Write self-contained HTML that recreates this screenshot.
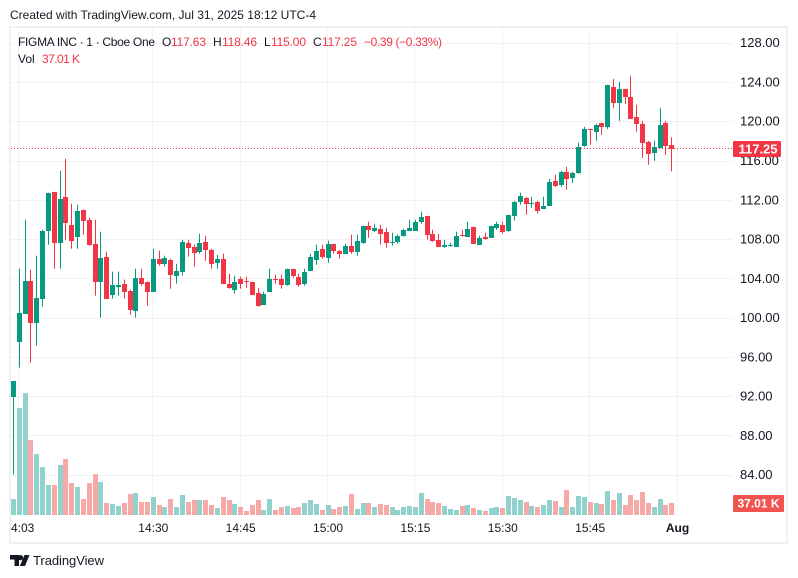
<!DOCTYPE html>
<html>
<head>
<meta charset="utf-8">
<title>FIGMA INC chart</title>
<style>
html,body{margin:0;padding:0;background:#fff;width:798px;height:578px;overflow:hidden}
svg{display:block;font-family:"Liberation Sans","DejaVu Sans",sans-serif}
</style>
</head>
<body>
<svg id="chart" xmlns="http://www.w3.org/2000/svg" width="798" height="578" viewBox="0 0 798 578">
  <rect x="0" y="0" width="798" height="578" fill="#ffffff"/>
  <text x="10" y="19" font-size="12" fill="#131722" textLength="306" lengthAdjust="spacing">Created with TradingView.com, Jul 31, 2025 18:12 UTC-4</text>
  <rect x="10" y="27" width="777" height="516" fill="none" stroke="#f1f1f3" stroke-width="2"/>
  <g id="grid"></g>
  <g id="volumes"></g>
  <g id="candles"></g>
  <line id="lastLine" x1="11" x2="733" stroke="#f23645" stroke-width="1" stroke-dasharray="1 2"/>
  <g id="yAxis"></g>
  <g id="xAxis"></g>
  <g id="badges"></g>
  <g font-size="12">
    <text x="18" y="46" fill="#131722" textLength="137" lengthAdjust="spacing">FIGMA INC · 1 · Cboe One</text>
    <text x="162" y="46" fill="#131722">O</text>
    <text x="171" y="46" fill="#f23645" textLength="35">117.63</text>
    <text x="213" y="46" fill="#131722">H</text>
    <text x="222" y="46" fill="#f23645" textLength="35">118.46</text>
    <text x="264" y="46" fill="#131722">L</text>
    <text x="271" y="46" fill="#f23645" textLength="35">115.00</text>
    <text x="313" y="46" fill="#131722">C</text>
    <text x="322" y="46" fill="#f23645" textLength="35">117.25</text>
    <text x="364" y="46" fill="#f23645" textLength="78" lengthAdjust="spacing">−0.39 (−0.33%)</text>
    <text x="18" y="63" fill="#131722">Vol</text>
    <text x="42" y="63" fill="#f23645" textLength="38" lengthAdjust="spacing">37.01 K</text>
  </g>
  <g>
    <path fill="#131722" d="M10 555h9v11h-4.500v-6.500H10z M20.500 555a2.600 2.600 0 1 1 0 5.200a2.600 2.600 0 0 1 0-5.200z M24.500 555h5l-4.500 11h-5.200z"/>
    <text x="33" y="565" font-size="13" fill="#131722" textLength="71" lengthAdjust="spacing">TradingView</text>
  </g>
</svg>
<script>
var opens = [92.00,97.66,100.51,103.86,99.59,102.03,108.95,112.92,107.73,112.41,109.56,108.34,111.09,110.07,107.63,103.76,106.30,102.44,103.25,103.56,102.85,100.81,104.17,103.76,102.74,106.10,105.59,106.00,104.37,104.78,107.73,107.32,106.81,107.83,107.01,105.69,106.10,103.55,102.94,104.06,103.83,103.76,102.64,101.42,102.74,104.06,104.06,103.45,105.08,104.27,103.55,104.88,106.00,107.12,106.20,107.62,106.91,106.61,107.42,106.81,107.73,109.46,108.95,109.15,108.84,107.73,107.83,108.44,108.95,108.95,109.87,110.48,108.64,108.03,107.32,107.42,107.32,108.54,108.34,109.36,107.53,108.34,108.24,109.25,109.56,108.95,110.48,111.90,112.31,111.70,111.90,111.19,111.49,114.04,113.63,114.95,114.34,114.85,117.60,119.26,119.02,119.94,119.53,123.60,121.97,123.40,122.58,120.55,119.84,118.00,116.89,117.40,119.94,117.63];
var highs = [93.62,105.08,110.07,104.98,106.41,109.05,112.82,112.92,115.05,116.27,111.70,111.60,111.09,110.27,110.07,108.85,106.81,104.78,104.78,103.97,102.95,105.08,105.08,103.76,107.12,106.92,106.41,106.10,105.59,108.03,108.03,107.53,108.64,108.44,107.12,106.50,106.61,104.57,104.37,104.27,104.27,103.76,103.15,102.74,105.08,104.47,104.47,105.08,105.08,104.57,105.08,106.61,107.52,107.52,107.93,107.62,107.01,107.62,108.54,108.54,109.46,109.86,109.66,109.56,109.25,108.75,108.54,109.15,110.07,110.07,110.88,110.48,109.05,108.64,108.03,107.73,108.85,109.05,109.87,109.36,108.44,108.75,109.46,109.87,109.87,110.58,112.00,112.82,112.41,112.41,112.00,112.41,114.24,114.65,115.05,115.46,114.95,117.90,119.53,119.33,119.84,119.94,123.80,124.41,124.11,123.40,124.72,121.77,120.14,118.11,118.11,121.46,120.14,118.46];
var lows = [84.13,95.01,100.51,95.52,97.25,101.22,107.53,105.08,105.08,108.03,107.12,107.12,108.54,107.42,102.34,100.10,102.03,102.03,102.34,102.03,100.40,100.10,103.36,101.32,102.74,105.39,105.29,103.05,103.56,104.37,106.30,105.29,106.61,105.89,105.08,105.08,103.55,103.05,102.54,103.05,103.15,102.44,101.22,101.42,102.74,103.55,103.05,103.35,104.17,103.25,103.35,104.88,105.49,106.10,105.69,106.61,106.10,106.61,106.61,106.40,107.62,108.23,108.84,107.52,107.22,107.42,107.63,108.34,108.95,108.95,109.66,108.03,107.83,107.32,107.22,107.32,107.32,108.34,108.34,107.63,107.53,108.03,108.24,109.05,108.64,108.85,109.97,111.60,110.58,111.29,110.68,111.19,111.49,113.43,113.43,113.12,113.83,114.75,117.50,117.70,118.11,118.72,119.33,121.46,120.14,121.87,120.34,119.02,116.38,115.67,116.07,117.40,116.68,115.00];
var closes = [93.62,100.61,103.86,99.59,102.13,108.95,112.82,107.73,112.20,109.76,107.93,110.98,109.97,107.53,103.76,106.20,102.03,103.46,103.46,102.74,100.91,104.17,103.56,102.74,106.10,105.59,106.20,104.47,104.88,107.83,107.22,106.71,107.73,107.01,105.59,106.10,103.55,103.15,103.76,103.55,103.72,102.44,101.32,102.54,104.06,103.96,103.45,105.08,104.37,103.45,104.78,106.30,106.91,106.30,107.62,106.91,106.61,107.42,106.81,107.93,109.46,109.05,109.25,108.64,107.73,107.83,108.44,109.05,109.25,109.87,110.37,108.54,107.93,107.32,107.53,107.53,108.44,108.44,109.15,107.63,108.24,108.14,109.46,109.66,108.85,110.58,111.90,112.51,111.70,111.80,110.98,111.49,113.93,113.53,114.95,114.24,114.85,117.50,119.33,119.16,119.73,119.53,123.80,121.97,123.40,122.58,120.34,119.84,117.90,116.78,117.50,119.73,117.60,117.25];
var volumes = [49.3,330,376,231,188,148,92.5,92.5,154,173,98.7,86.4,49.3,98.7,126,102,37,33.9,27.8,37,64.8,67.8,40.1,40.1,55.5,30.8,24.7,49.3,24.7,61.7,40.1,46.3,46.3,46.3,30.8,21.6,55.5,46.3,33.9,24.7,12.3,30.8,46.3,15.4,49.3,15.4,24.7,27.8,21.6,24.7,37,46.3,33.9,15.4,30.8,18.5,24.7,27.8,64.8,18.5,37,37,24.7,33.9,30.8,24.7,15.4,24.7,27.8,24.7,67.8,49.3,40.1,37,27.8,18.5,15.4,27.8,30.8,21.6,15.4,12.3,21.6,24.7,21.6,58.6,52.4,46.3,40.1,27.8,24.7,30.8,46.3,43.2,24.7,77.1,24.7,58.6,55.5,40.1,37,33.9,74,46.3,67.8,30.8,61.7,46.3,70.9,37,24.7,49.3,30.8,37.01];
var priceTicks = [128,124,120,116,112,108,104,100,96,92,88,84];
var timeTickSlots = [1,24,39,54,69,84,99,114];
var timeTickLabels = ["4:03","14:30","14:45","15:00","15:15","15:30","15:45","Aug"];
var lastPrice = 117.25;
var lastVolumeLabel = "37.01 K";

var NS = "http://www.w3.org/2000/svg";
var GREEN = "#089981", RED = "#f23645";
function xScale(i) { return 13.5 + i * 5.825; }
function yScale(p) { return 161.5 + (116 - p) * 9.82; }
function volHeight(v) { return v / 37.01 * 12; }
function mk(parent, tag, attrs) {
  var el = document.createElementNS(NS, tag);
  for (var k in attrs) { el.setAttribute(k, attrs[k]); }
  parent.appendChild(el);
  return el;
}
var grid = document.getElementById("grid");
var yAxis = document.getElementById("yAxis");
var xAxis = document.getElementById("xAxis");
var volG = document.getElementById("volumes");
var candleG = document.getElementById("candles");
var badges = document.getElementById("badges");

priceTicks.forEach(function (p) {
  var y = Math.round(yScale(p)) - 0.5;
  var line = mk(grid, "line", {x1: 11, x2: 732, y1: y, y2: y, stroke: "#f2f2f4", "stroke-width": 1});
  
  
  var t = mk(yAxis, "text", {x: 740, y: yScale(p) + 3.5, "font-size": 13, fill: "#131722"});
  
  
  t.textContent = p.toFixed(2);
});

timeTickSlots.forEach(function (slot, n) {
  var x = Math.round(xScale(slot)) - 0.5;
  var line = mk(grid, "line", {x1: x, x2: x, y1: 28, y2: 515, stroke: "#f2f2f4", "stroke-width": 1});
  
  
  var first = n === 0;
  var last = n === timeTickSlots.length - 1;
  var t = mk(xAxis, "text", {x: first ? 11 : xScale(slot), y: 532, "font-size": 12, fill: "#131722", "text-anchor": first ? "start" : "middle", "font-weight": last ? "bold" : "normal"});
  
  
  t.textContent = timeTickLabels[n];
});

volumes.forEach(function (v, i) {
  var up = closes[i] >= opens[i];
  var h = volHeight(v);
  var bar = mk(volG, "rect", {x: Math.round(xScale(i) - 2.5), y: 515 - h, width: 5, height: h, fill: up ? "#92d2cc" : "#f7a9a7"});
  
  
});

opens.forEach(function (o, i) {
  var c = closes[i], up = c >= o, col = up ? GREEN : RED;
  var cx = Math.round(xScale(i) - 2.5);
  var wick = mk(candleG, "rect", {x: cx + 2, y: yScale(highs[i]), width: 1, height: yScale(lows[i]) - yScale(highs[i]), fill: col});
  
  
  var top = Math.round(yScale(Math.max(o, c)));
  var bot = Math.round(yScale(Math.min(o, c)));
  var body = mk(candleG, "rect", {x: cx, y: top, width: 5, height: Math.max(1, bot - top), fill: col});
  
  
});

var lastY = Math.round(yScale(lastPrice)) - 0.5;
var lastLine = document.getElementById("lastLine");
lastLine.setAttribute("y1", lastY);
lastLine.setAttribute("y2", lastY);

var priceBadge = mk(badges, "rect", {x: 733, y: lastY - 7.5, width: 48, height: 16, fill: RED, rx: 1});


var priceBadgeText = mk(badges, "text", {x: 758, y: lastY + 5, "font-size": 13, "font-weight": "bold", fill: "#ffffff", "text-anchor": "middle"});


priceBadgeText.textContent = lastPrice.toFixed(2);

var volBadge = mk(badges, "rect", {x: 733, y: 495, width: 51, height: 17, fill: "#f05350", rx: 1});


var volBadgeText = mk(badges, "text", {x: 758.5, y: 507.5, "font-size": 12, "font-weight": "bold", fill: "#ffffff", "text-anchor": "middle"});


volBadgeText.textContent = lastVolumeLabel;
</script>
</body>
</html>
